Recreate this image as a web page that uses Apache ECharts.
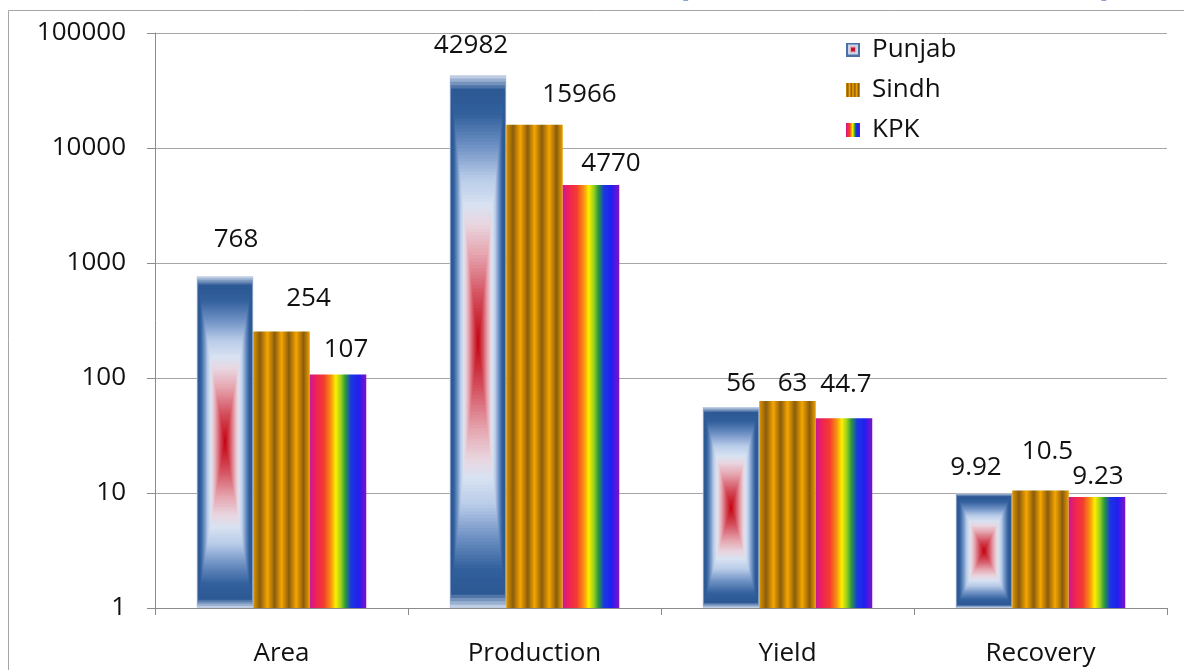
<!DOCTYPE html>
<html>
<head>
<meta charset="utf-8">
<script src="https://cdn.jsdelivr.net/npm/echarts@6/dist/echarts.min.js"></script>
<style>
  html, body { margin: 0; padding: 0; background: #fff; }
  #chart { width: 1184px; height: 670px; }
</style>
</head>
<body>
<div id="chart"></div>
<script>
// Province-wise sugarcane figures, plotted on a log scale
const categories = ['Area', 'Production', 'Yield', 'Recovery'];
const provinces = ['Punjab', 'Sindh', 'KPK'];
const punjab = [768, 42982, 56, 9.92];
const sindh = [254, 15966, 63, 10.5];
const kpk = [107, 4770, 44.7, 9.23];
const yTicks = [1, 10, 100, 1000, 10000, 100000];

// label nudges [dx, dy above bar top] per province, per category
const labelNudge = [
  [[11, 37], [-7, 30], [10, 23], [-8, 26]],
  [[27, 33], [45, 30], [5, 17], [7, 39]],
  [[8, 25], [20, 21], [2, 34], [1, 20]]
];

const FONT = '"Open Sans", "Noto Sans", sans-serif';
const FS = 26;

// Punjab fill: rectangular gradient running from the edges to the centre
const pathStops = [
  [1.00, [190, 205, 228]],
  [0.95, [44, 88, 148]],
  [0.86, [50, 96, 156]],
  [0.74, [110, 145, 196]],
  [0.62, [184, 203, 232]],
  [0.52, [216, 226, 242]],
  [0.45, [232, 214, 224]],
  [0.34, [230, 168, 178]],
  [0.18, [212, 80, 94]],
  [0.00, [196, 0, 14]]
];
function pathColor(t) {
  for (let i = 0; i < pathStops.length - 1; i++) {
    const a = pathStops[i], b = pathStops[i + 1];
    if (t <= a[0] && t >= b[0]) {
      const k = (a[0] - t) / (a[0] - b[0]);
      const c = a[1].map((v, j) => Math.round(v + (b[1][j] - v) * k));
      return 'rgb(' + c.join(',') + ')';
    }
  }
  return 'rgb(196,0,14)';
}

const stripeStops = [
  [0, '#dc9400'], [0.12, '#8a5c0c'], [0.25, '#f5a500'], [0.38, '#8a5c0c'],
  [0.5, '#f5a500'], [0.63, '#8a5c0c'], [0.76, '#f5a500'], [0.89, '#8a5c0c'], [1, '#eea000']
];
const rainbowStops = [
  [0, '#c8189a'], [0.1, '#ee2058'], [0.25, '#f43c30'], [0.38, '#f8980c'],
  [0.46, '#fcf000'], [0.55, '#9ad020'], [0.63, '#2a9a3a'], [0.73, '#1a38e0'],
  [0.86, '#2020f0'], [1, '#8010c8']
];
function hGradient(stops) {
  return new echarts.graphic.LinearGradient(0, 0, 1, 0,
    stops.map(s => ({ offset: s[0], color: s[1] })));
}

function fillBar(kind, x, y, w, h) {
  if (kind === 0) {
    const cx = x + w / 2, cy = y + h / 2;
    const steps = 80, out = [];
    for (let i = steps; i >= 1; i--) {
      const t = i / steps;
      out.push({
        type: 'rect', silent: true,
        shape: { x: cx - w * t / 2, y: cy - h * t / 2, width: w * t, height: h * t },
        style: { fill: pathColor(t) }
      });
    }
    return out;
  }
  return [{
    type: 'rect', silent: true,
    shape: { x: x, y: y, width: w, height: h },
    style: { fill: hGradient(kind === 1 ? stripeStops : rainbowStops) }
  }];
}

function makeRender(k) {
  return function (params, api) {
    const idx = api.value(0), v = api.value(1);
    const top = api.coord([idx, v]);
    const base = api.coord([idx, 1]);
    const band = api.size([1, 0])[0];
    const bw = band * (1 - 0.33) / 3;
    const x = top[0] - 1.5 * bw + k * bw;
    const y = top[1], h = base[1] - top[1];
    const nudge = labelNudge[k][idx];
    const children = fillBar(k, x, y, bw, h);
    children.push({
      type: 'text', silent: true,
      x: x + bw / 2 + nudge[0], y: y - nudge[1],
      style: {
        text: String(v), fill: '#111', font: FS + 'px ' + FONT,
        align: 'center', verticalAlign: 'middle'
      }
    });
    return { type: 'group', children: children };
  };
}

// legend swatches
function swatch(kind) {
  const c = document.createElement('canvas');
  c.width = 21; c.height = 14;
  const g = c.getContext('2d');
  if (kind === 0) {
    g.fillStyle = '#4a6fa5'; g.fillRect(0, 0, 14, 14);
    g.fillStyle = '#c9d6ea'; g.fillRect(2, 2, 10, 10);
    g.fillStyle = '#e8a8b2'; g.fillRect(4, 4, 6, 6);
    g.fillStyle = '#c8102a'; g.fillRect(5, 5, 4, 4);
  } else {
    const grad = g.createLinearGradient(0, 0, 14, 0);
    (kind === 1 ? stripeStops : rainbowStops).forEach(s => grad.addColorStop(s[0], s[1]));
    g.fillStyle = grad; g.fillRect(0, 0, 14, 14);
  }
  return 'image://' + c.toDataURL();
}

const seriesValues = [punjab, sindh, kpk];
const chart = echarts.init(document.getElementById('chart'));
chart.setOption({
  animation: false,
  backgroundColor: '#fff',
  textStyle: { fontFamily: FONT },
  grid: { left: 155, right: 17, top: 33, bottom: 62 },
  legend: {
    orient: 'vertical', left: 841, top: 31,
    itemWidth: 21, itemHeight: 14, itemGap: 13,
    textStyle: { fontSize: FS, color: '#111', lineHeight: 27, fontFamily: FONT },
    data: provinces.map((p, i) => ({ name: p, icon: swatch(i) }))
  },
  xAxis: {
    type: 'category', data: categories,
    axisLine: { lineStyle: { color: '#8c8c8c', width: 1 } },
    axisTick: { show: true, length: 7, lineStyle: { color: '#8c8c8c' } },
    axisLabel: { fontSize: FS, color: '#111', margin: 33, fontFamily: FONT },
    splitLine: { show: false }
  },
  yAxis: {
    type: 'log', logBase: 10, min: yTicks[0], max: yTicks[yTicks.length - 1],
    axisLine: { show: true, lineStyle: { color: '#8c8c8c' } },
    axisTick: { show: true, length: 8, inside: false, lineStyle: { color: '#8c8c8c' } },
    minorTick: { show: false },
    axisLabel: {
      fontSize: FS, color: '#111', margin: 29, fontFamily: FONT,
      formatter: v => String(Math.round(v))
    },
    splitLine: { show: true, lineStyle: { color: '#a6a6a6', width: 1 } }
  },
  series: provinces.map((p, k) => ({
    name: p, type: 'custom',
    renderItem: makeRender(k),
    encode: { x: 0, y: 1 },
    data: seriesValues[k].map((v, i) => [i, v])
  })),
  graphic: [
    {
      type: 'rect', silent: true, z: -1,
      shape: { x: 8.5, y: 10.5, width: 1200, height: 700 },
      style: { fill: null, stroke: '#a6a6a6', lineWidth: 1 }
    },
    {
      type: 'text', silent: true, left: 676, top: -37,
      style: { text: '(', font: 'bold 40px ' + FONT, fill: '#1f4fa0' }
    },
    {
      type: 'text', silent: true, left: 1100, top: -37,
      style: { text: ')', font: 'bold 40px ' + FONT, fill: '#1f4fa0' }
    }
  ]
});
</script>
</body>
</html>
